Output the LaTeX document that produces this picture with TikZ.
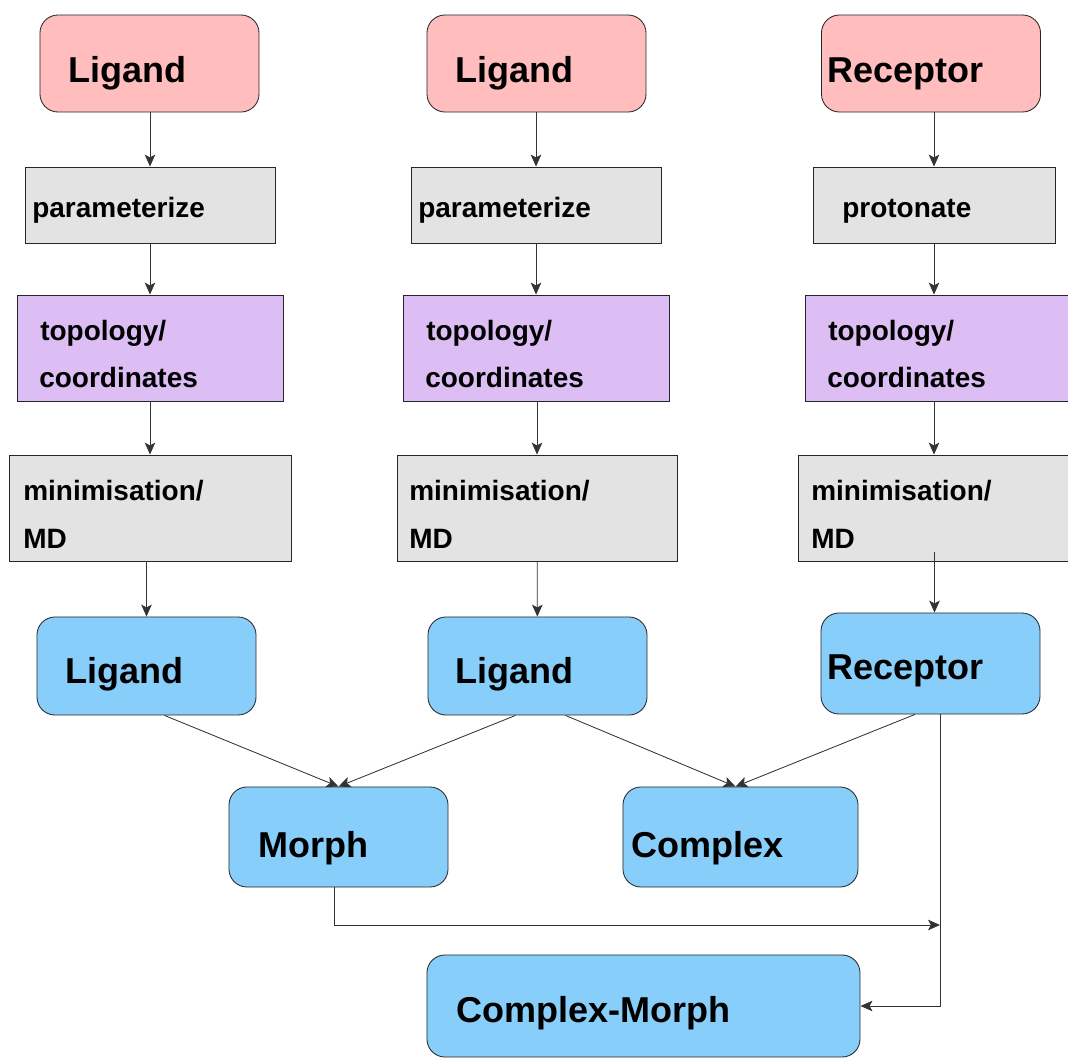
\documentclass[tikz,border=0pt]{standalone}
\usepackage{fontspec}
\setmainfont{Liberation Sans}
\usetikzlibrary{
  shapes,
  calc,
  positioning,
  arrows.meta
}
\definecolor{inpink}{RGB}{255,189,189}
\definecolor{stepgray}{RGB}{227,227,227}
\definecolor{topolilac}{RGB}{220,190,245}
\definecolor{outblue}{RGB}{135,206,250}
\tikzset{
  box/.style = {draw=black!85, line width=0.6pt, inner sep=0pt},
  inbox/.style = {box, fill=inpink, rounded corners=0.45cm, minimum width=5.475cm, minimum height=2.425cm},
  taskbox/.style = {box, fill=stepgray, minimum height=1.9cm},
  topobox/.style = {box, fill=topolilac, minimum width=6.65cm, minimum height=2.65cm},
  mdbox/.style = {box, fill=stepgray, minimum width=7.05cm, minimum height=2.65cm},
  outbox/.style = {box, fill=outblue, rounded corners=0.45cm, minimum width=5.475cm, minimum height=2.45cm},
  bigtxt/.style = {anchor=base west, inner sep=0pt, font=\fontsize{25.6pt}{30pt}\selectfont\bfseries},
  smalltxt/.style = {anchor=base west, inner sep=0pt, font=\fontsize{19.9pt}{24pt}\selectfont\bfseries},
  flow/.style = {draw=black!80, line width=0.6pt, -{Stealth[length=8.5pt,width=7.5pt,inset=2pt]}}
}
\begin{document}
\begin{tikzpicture}[x=0.025cm, y=-0.025cm]
    \useasboundingbox (0,0) rectangle (1068,1059);

    % inputs
    \node[inbox] (lig1) at (149.5,63.5) {};
    \node[inbox] (lig2) at (536.5,63.5) {};
    \node[inbox] (rec) at (931,63.5) {};
    \node[bigtxt] (lig1t) at (68,82) {Ligand};
    \node[bigtxt] (lig2t) at (455,82) {Ligand};
    \node[bigtxt] (rect) at (827,82) {Receptor};

    % preparation
    \node[taskbox,minimum width=6.25cm] (par1) at (150,205) {};
    \node[taskbox,minimum width=6.25cm] (par2) at (536,205) {};
    \node[taskbox,minimum width=6.05cm] (prot) at (934,205) {};
    \node[smalltxt] (par1t) at (32,217) {parameterize};
    \node[smalltxt] (par2t) at (418,217) {parameterize};
    \node[smalltxt] (prott) at (842,217) {protonate};

    \node[topobox] (top1) at (150,348) {};
    \node[topobox] (top2) at (536,348) {};
    \node[topobox] (top3) at (938,348) {};
    \node[smalltxt] (top1a) at (40,340) {topology/};
    \node[smalltxt] (top1b) at (39,387) {coordinates};
    \node[smalltxt] (top2a) at (426,340) {topology/};
    \node[smalltxt] (top2b) at (425,387) {coordinates};
    \node[smalltxt] (top3a) at (828,340) {topology/};
    \node[smalltxt] (top3b) at (827,387) {coordinates};

    \node[mdbox] (md1) at (150,508) {};
    \node[mdbox,minimum width=7cm] (md2) at (537,508) {};
    \node[mdbox] (md3) at (939,508) {};
    \node[smalltxt] (md1a) at (23,500) {minimisation/};
    \node[smalltxt] (md1b) at (23,548) {MD};
    \node[smalltxt] (md2a) at (409,500) {minimisation/};
    \node[smalltxt] (md2b) at (409,548) {MD};
    \node[smalltxt] (md3a) at (811,500) {minimisation/};
    \node[smalltxt] (md3b) at (811,548) {MD};

    % outputs
    \node[outbox] (olig1) at (146.5,666) {};
    \node[outbox] (olig2) at (537.5,666) {};
    \node[outbox,minimum height=2.525cm] (orec) at (930.5,663.5) {};
    \node[bigtxt] (olig1t) at (65,683) {Ligand};
    \node[bigtxt] (olig2t) at (455,683) {Ligand};
    \node[bigtxt] (orect) at (827,679) {Receptor};

    \node[outbox,minimum height=2.5cm] (morph) at (338.5,837) {};
    \node[outbox,minimum height=2.5cm,minimum width=5.875cm] (cplx) at (740.5,837) {};
    \node[outbox,minimum height=2.55cm,minimum width=10.825cm] (cm) at (643.5,1006) {};
    \node[bigtxt] (morpht) at (258,857) {Morph};
    \node[bigtxt] (cplxt) at (631,857) {Complex};
    \node[bigtxt] (cmt) at (456,1022) {Complex-Morph};

    \coordinate (join) at (940,925);

    \draw[flow] (lig1.south -| par1.north) -- (par1.north);
    \draw[flow] (par1) -- (top1);
    \draw[flow] (top1) -- (md1);
    \draw[flow] (md1.south -| olig1.north) -- (olig1.north);
    \draw[flow] (lig2.south -| par2.north) -- (par2.north);
    \draw[flow] (par2) -- (top2);
    \draw[flow] (top2.south -| md2.north) -- (md2.north);
    \draw[flow] (md2) -- (olig2);
    \draw[flow] (rec.south -| prot.north) -- (prot.north);
    \draw[flow] (prot.south) -- (prot.south |- top3.north);
    \draw[flow] (prot.south |- top3.south) -- (prot.south |- md3.north);
    \draw[flow] ([xshift=0.1cm,yshift=0.225cm]md3.south -| orec.north) -- ([xshift=0.1cm]orec.north);

    \draw[flow] ([xshift=0.45cm]olig1.south) -- (morph.north);
    \draw[flow] ([xshift=-0.55cm]olig2.south) -- (morph.north);
    \draw[flow] ([xshift=0.7cm]olig2.south) -- ([xshift=-0.125cm]cplx.north);
    \draw[flow] ([xshift=-0.39cm]orec.south) -- ([xshift=-0.125cm]cplx.north);
    \draw[flow] ([xshift=0.24cm]orec.south) |- (cm.east);
    \draw[flow] ([xshift=-0.09cm]morph.south) |- (join);
\end{tikzpicture}
\end{document}
